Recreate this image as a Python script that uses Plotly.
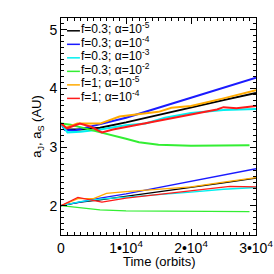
import plotly.graph_objects as go

# Time (orbits) sample points
t_black_s = [0, 1000, 3000, 6000, 10000, 15000, 20000, 25000, 30000]
a_black_s = [3.40, 3.30, 3.30, 3.33, 3.42, 3.55, 3.68, 3.80, 3.92]
t_black_j = [0, 3000, 6000, 10000, 15000, 20000, 25000, 30000]
a_black_j = [2.00, 2.06, 2.10, 2.16, 2.23, 2.31, 2.39, 2.47]

t_blue_s = [0, 600, 2000, 5000, 10000, 20000, 30000]
a_blue_s = [3.40, 3.29, 3.28, 3.36, 3.50, 3.84, 4.18]
t_blue_j = [0, 3000, 6000, 10000, 20000, 30000]
a_blue_j = [2.00, 2.07, 2.13, 2.20, 2.42, 2.63]

t_cyan_s = [0, 1000, 3000, 6000, 10000, 13000, 16000, 20000, 25000, 30000]
a_cyan_s = [3.40, 3.25, 3.26, 3.30, 3.37, 3.40, 3.50, 3.58, 3.63, 3.65]
t_cyan_j = [0, 3000, 6000, 10000, 15000, 20000, 25000, 30000]
a_cyan_j = [2.00, 2.07, 2.11, 2.15, 2.19, 2.23, 2.28, 2.31]

t_green_s = [0, 1500, 5000, 8000, 10000, 12000, 15000, 20000, 25000, 29000]
a_green_s = [3.40, 3.38, 3.28, 3.20, 3.14, 3.08, 3.04, 3.02, 3.02, 3.03]
t_green_j = [0, 3000, 6000, 10000, 15000, 20000, 25000, 29000]
a_green_j = [2.00, 1.96, 1.93, 1.91, 1.91, 1.90, 1.90, 1.90]

t_orange_s = [0, 800, 2500, 6000, 9000, 12000, 15000, 17000, 20000, 25000, 30000]
a_orange_s = [3.40, 3.33, 3.40, 3.40, 3.52, 3.56, 3.60, 3.67, 3.70, 3.83, 3.97]
t_orange_j = [0, 2600, 5000, 7000, 10000, 15000, 20000, 25000, 30000]
a_orange_j = [2.00, 2.12, 2.12, 2.21, 2.24, 2.28, 2.32, 2.40, 2.48]

t_red_s = [0, 900, 2900, 4500, 6300, 8000, 10000, 15000, 20000, 24000, 25000, 27000, 30000]
a_red_s = [3.40, 3.32, 3.40, 3.35, 3.25, 3.30, 3.34, 3.45, 3.56, 3.64, 3.68, 3.66, 3.70]
t_red_j = [0, 2600, 4500, 6300, 10000, 15000, 19000, 26000, 30000]
a_red_j = [2.00, 2.14, 2.10, 2.06, 2.13, 2.19, 2.24, 2.33, 2.32]

labels = ["f=0.3; α=10<sup>-5</sup>", "f=0.3; α=10<sup>-4</sup>", "f=0.3; α=10<sup>-3</sup>",
          "f=0.3; α=10<sup>-2</sup>", "f=1; α=10<sup>-5</sup>", "f=1; α=10<sup>-4</sup>"]
colors = ["#000000", "#1a1aff", "#00f0f0", "#33ee33", "#ffaa00", "#ff1a1a"]

series = [
    (t_black_s, a_black_s, t_black_j, a_black_j),
    (t_blue_s, a_blue_s, t_blue_j, a_blue_j),
    (t_cyan_s, a_cyan_s, t_cyan_j, a_cyan_j),
    (t_green_s, a_green_s, t_green_j, a_green_j),
    (t_orange_s, a_orange_s, t_orange_j, a_orange_j),
    (t_red_s, a_red_s, t_red_j, a_red_j),
]

x_tickvals = [0, 10000, 20000, 30000]
x_ticktext = ["0", "1•10<sup>4</sup>", "2•10<sup>4</sup>", "3•10<sup>4</sup>"]
y_tickvals = [2, 3, 4, 5]
y_ticktext = ["2", "3", "4", "5"]

FONT = "Liberation Sans, Arial, Helvetica, sans-serif"

fig = go.Figure()
for (ts, as_, tj, aj), lab, col in zip(series, labels, colors):
    fig.add_trace(go.Scatter(x=ts, y=as_, mode="lines", line=dict(color=col, width=2),
                             showlegend=False, hoverinfo="skip"))
    fig.add_trace(go.Scatter(x=tj, y=aj, mode="lines", line=dict(color=col, width=1.3),
                             showlegend=False, hoverinfo="skip"))

# manual legend (line sample + label)
y0 = 0.941
dy = 0.0623
for i, (lab, col) in enumerate(zip(labels, colors)):
    yy = y0 - i * dy
    fig.add_shape(type="line", xref="paper", yref="paper", x0=0.031, x1=0.097, y0=yy, y1=yy,
                  line=dict(color=col, width=1.5))
    fig.add_annotation(xref="paper", yref="paper", x=0.09, y=yy + 0.013, text=lab,
                       showarrow=False, xanchor="left", yanchor="middle",
                       font=dict(family=FONT, size=12, color="black"))

# x-axis title
fig.add_annotation(xref="paper", yref="paper", x=0.5, y=-0.122, text="Time (orbits)",
                   showarrow=False, xanchor="center", yanchor="middle",
                   font=dict(family=FONT, size=13, color="black"))

axis_common = dict(showgrid=False, zeroline=False, showline=True, linecolor="black", linewidth=1,
                   mirror="allticks", ticks="inside", ticklen=6, tickcolor="black", tickwidth=1,
                   automargin=False,
                   tickfont=dict(family=FONT, size=14, color="black"))
fig.update_xaxes(range=[0, 30000], tickmode="array", tickvals=x_tickvals, ticktext=x_ticktext,
                 minor=dict(ticks="inside", ticklen=3, dtick=1000, tickcolor="black"),
                 **axis_common)
fig.update_yaxes(range=[1.5, 5.2], tickmode="array", tickvals=y_tickvals, ticktext=y_ticktext,
                 minor=dict(ticks="inside", ticklen=3, dtick=0.1, tickcolor="black"),
                 title=dict(text="a<sub>J</sub>, a<sub>S</sub> (AU)",
                            font=dict(family=FONT, size=13, color="black"), standoff=4),
                 **axis_common)
fig.update_layout(width=274, height=274, margin=dict(l=61, r=18, t=18, b=39),
                  paper_bgcolor="white", plot_bgcolor="white", showlegend=False)
fig.write_html("out.html", config={"displayModeBar": False},
               post_script="document.body.style.margin='0';document.body.style.overflow='hidden';")
